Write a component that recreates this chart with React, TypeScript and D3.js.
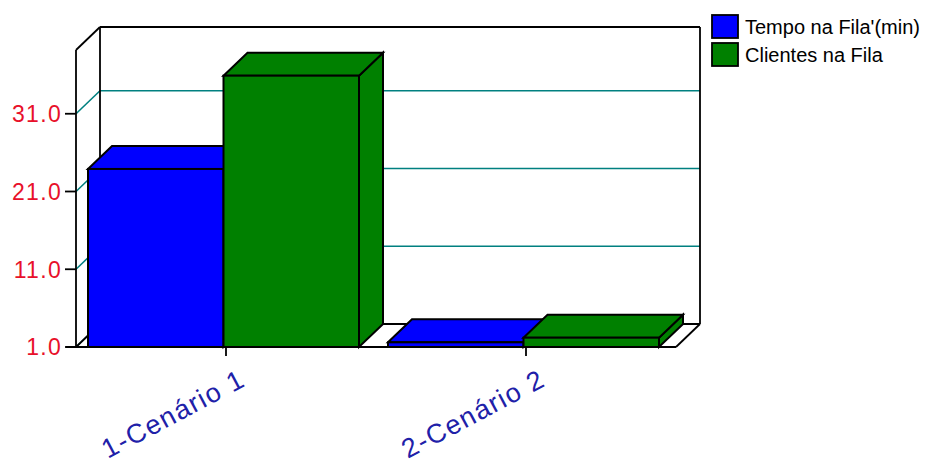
import React from "react";
import * as d3 from "d3";

// Chart data
const categories = ["1-Cenário 1", "2-Cenário 2"];
const seriesNames = ["Tempo na Fila'(min)", "Clientes na Fila"];
const tempoNaFila = [23.9, 1.6];
const clientesNaFila = [35.9, 2.2];
const yTicks = [1, 11, 21, 31];
const yDomain = [1, 39.2];

const seriesColors = ["#0000ff", "#008000"];

const W = 926;
const H = 465;
// Front plane of the 3D box and its depth offset
const FRONT_LEFT = 76;
const FRONT_RIGHT = 676;
const FRONT_BOTTOM = 347;
const FRONT_TOP = 50;
const DX = 24;
const DY = -23;

const GRID = "#008080";
const FONT = "'Liberation Sans', Arial, sans-serif";

export default function App() {
  const x = d3.scaleBand<string>().domain(categories).range([FRONT_LEFT, FRONT_RIGHT]).padding(0);
  const xs = d3
    .scaleBand<number>()
    .domain([0, 1])
    .range([12, x.bandwidth() - 17])
    .padding(0);
  const y = d3.scaleLinear().domain(yDomain).range([FRONT_BOTTOM, FRONT_TOP]);

  const series = [tempoNaFila, clientesNaFila];
  const pts = (p: [number, number][]) => p.map((q) => q.join(",")).join(" ");

  const backL = FRONT_LEFT + DX;
  const backR = FRONT_RIGHT + DX;
  const backTop = FRONT_TOP + DY;
  const backBottom = FRONT_BOTTOM + DY;

  const bars: React.ReactNode[] = [];
  categories.forEach((c, ci) => {
    series.forEach((vals, si) => {
      const bx = (x(c) ?? 0) + (xs(si) ?? 0);
      const w = xs.bandwidth();
      const yt = y(vals[ci]);
      const yb = y(yDomain[0]);
      const color = seriesColors[si];
      const common = { fill: color, stroke: "#000", strokeWidth: 2, strokeLinejoin: "miter" as const };
      bars.push(
        <g key={`${ci}-${si}`}>
          <polygon
            {...common}
            points={pts([
              [bx + w, yt],
              [bx + w + DX, yt + DY],
              [bx + w + DX, yb + DY],
              [bx + w, yb],
            ])}
          />
          <polygon
            {...common}
            points={pts([
              [bx, yt],
              [bx + DX, yt + DY],
              [bx + w + DX, yt + DY],
              [bx + w, yt],
            ])}
          />
          <rect {...common} x={bx} y={yt} width={w} height={yb - yt} />
        </g>
      );
    });
  });

  return (
    <svg
      width={W}
      height={H}
      style={{ position: "absolute", left: 0, top: 0, background: "#fff" }}
      fontFamily={FONT}
    >
      {/* grid on back wall and left wall */}
      {yTicks.map((t) => (
        <g key={`g${t}`} stroke={GRID} strokeWidth={1.6}>
          {t !== yDomain[0] && <line x1={backL} x2={backR} y1={y(t) + DY} y2={y(t) + DY} />}
          <line x1={FRONT_LEFT} y1={y(t)} x2={backL} y2={y(t) + DY} />
        </g>
      ))}

      {/* walls and floor outlines */}
      <g stroke="#000" strokeWidth={1.8} fill="none">
        <line x1={backL} y1={backTop} x2={backR} y2={backTop} />
        <line x1={backR} y1={backTop} x2={backR} y2={backBottom} />
        <line x1={backL} y1={backTop} x2={backL} y2={backBottom} />
        <line x1={FRONT_LEFT} y1={FRONT_TOP} x2={backL} y2={backTop} />
        <line x1={backL} y1={backBottom} x2={backR} y2={backBottom} />
        <line x1={FRONT_LEFT} y1={FRONT_BOTTOM} x2={backL} y2={backBottom} />
        <line x1={FRONT_RIGHT} y1={FRONT_BOTTOM} x2={backR} y2={backBottom} />
        <line x1={FRONT_LEFT} y1={FRONT_TOP} x2={FRONT_LEFT} y2={FRONT_BOTTOM} />
        <line x1={FRONT_LEFT - 10} y1={FRONT_BOTTOM} x2={FRONT_RIGHT} y2={FRONT_BOTTOM} />
      </g>

      {bars}

      {/* y axis ticks and labels */}
      {yTicks.map((t) => (
        <g key={`t${t}`}>
          <line x1={FRONT_LEFT - 11} x2={FRONT_LEFT} y1={y(t)} y2={y(t)} stroke="#000" strokeWidth={1.8} />
          <text
            x={FRONT_LEFT - 14}
            y={y(t)}
            dy="0.36em"
            textAnchor="end"
            fontSize={23}
            letterSpacing={1.3}
            fill="#e8102a"
          >
            {d3.format(".1f")(t)}
          </text>
        </g>
      ))}

      {/* x axis ticks and rotated labels */}
      {categories.map((c) => {
        const cx = (x(c) ?? 0) + x.bandwidth() / 2;
        return (
          <g key={c}>
            <line x1={cx} x2={cx} y1={FRONT_BOTTOM} y2={FRONT_BOTTOM + 9} stroke="#000" strokeWidth={1.8} />
            <text
              transform={`translate(${cx + 21},${FRONT_BOTTOM + 38}) rotate(-28)`}
              textAnchor="end"
              fontSize={27}
              letterSpacing={1.5}
              fill="#2020a8"
            >
              {c}
            </text>
          </g>
        );
      })}

      {/* legend */}
      {seriesNames.map((n, i) => (
        <g key={n} transform={`translate(712,${15 + i * 28})`}>
          <rect width={26} height={23} fill={seriesColors[i]} stroke="#000" strokeWidth={1.8} />
          <text x={33} y={19} fontSize={20} fill="#000">
            {n}
          </text>
        </g>
      ))}
    </svg>
  );
}
